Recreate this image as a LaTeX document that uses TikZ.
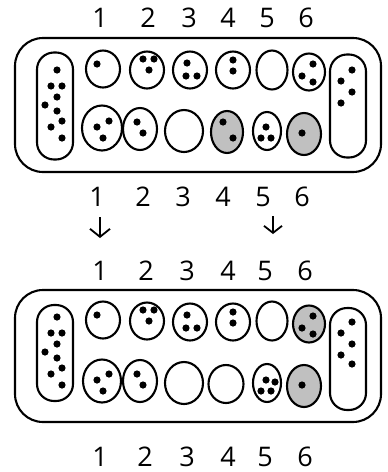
\documentclass[tikz,border=0pt]{standalone}
\usepackage{fontspec}
\setmainfont{Open Sans}
\usepackage{tikz}
\usetikzlibrary{positioning,arrows.meta,shapes.geometric}
\definecolor{seedgrey}{RGB}{192,192,192}

\begin{document}
\begin{tikzpicture}[x=1pt,y=-1pt,line width=2.1pt,
  board/.style={rectangle,draw,rounded corners=28pt,minimum width=366pt,minimum height=134pt},
  store/.style={rectangle,draw,rounded corners=17pt,minimum width=36pt,inner sep=0pt},
  pit/.style={ellipse,draw,inner sep=0pt,minimum width=34pt,minimum height=37pt},
  lowpit/.style={pit,minimum width=36pt,minimum height=42pt},
  taken/.style={fill=seedgrey},
  num/.style={font=\fontsize{27}{30}\selectfont,inner sep=0pt}
]
\useasboundingbox (0,0) rectangle (388,472);

% Top: board before the move
\foreach \n/\x in {1/100,2/148,3/189,4/228,5/267,6/306}
  \node[num] (a-n\n) at (\x,18) {\n};
\node[board] (a-board) at (198,105) {};
\node[store,minimum height=107pt] (a-L) at (55,106) {};
\node[store,minimum height=103pt] (a-R) at (348,106) {};
\node[pit] (a-t1) at (103,69) {};
\node[pit] (a-t2) at (147,70) {};
\node[pit] (a-t3) at (190,70) {};
\node[pit] (a-t4) at (233,70) {};
\node[pit,minimum width=31pt,minimum height=39pt] (a-t5) at (272,70) {};
\node[pit,minimum width=32pt] (a-t6) at (309,72) {};
\node[lowpit,minimum width=40pt,minimum height=45pt] (a-b1) at (102,128) {};
\node[lowpit,minimum width=34pt] (a-b2) at (140,129) {};
\node[lowpit,minimum width=38pt] (a-b3) at (184,131) {};
\node[lowpit,taken,minimum width=32pt] (a-b4) at (227,132) {};
\node[lowpit,minimum width=28pt,minimum height=38pt] (a-b5) at (267,131) {};
\node[lowpit,taken,minimum width=34pt] (a-b6) at (304,134) {};
% seeds
\foreach \dx/\dy in {2/-36,-4/-20,7/-20,2/-9,-10/-1,2/5,7/15,-4/21,7/32}
  \fill (a-L) ++(\dx,\dy) circle (3.6pt);
\foreach \dx/\dy in {4/-36,-7/-25,4/-14,-7/-3}
  \fill (a-R) ++(\dx,\dy) circle (3.6pt);
\fill (a-t1) ++(-6,-5) circle (3.6pt);
\foreach \dx/\dy in {-4/-11,7/-11,2/0} \fill (a-t2) ++(\dx,\dy) circle (3.6pt);
\foreach \dx/\dy in {-3/-7,-4/6,7/6} \fill (a-t3) ++(\dx,\dy) circle (3.6pt);
\foreach \dx/\dy in {0/-10,0/1} \fill (a-t4) ++(\dx,\dy) circle (3.6pt);
\foreach \dx/\dy in {4/-8,-7/4,4/10} \fill (a-t6) ++(\dx,\dy) circle (3.6pt);
\foreach \dx/\dy in {7/-7,-5/-1,1/10} \fill (a-b1) ++(\dx,\dy) circle (3.6pt);
\foreach \dx/\dy in {-3/-7,3/4} \fill (a-b2) ++(\dx,\dy) circle (3.6pt);
\foreach \dx/\dy in {-4/-10,6/6} \fill (a-b4) ++(\dx,\dy) circle (3.6pt);
\foreach \dx/\dy in {-1/-4,-6/7,4/7} \fill (a-b5) ++(\dx,\dy) circle (3.6pt);
\fill (a-b6) ++(-2,-1) circle (3.6pt);

% Middle: numbering and the two moves
\foreach \n/\x in {1/97,2/143,3/183,4/223,5/263,6/302}
  \node[num] (m-n\n) at (\x,197) {\n};
\coordinate (m-a1) at (100,217);
\coordinate (m-a1e) at (100,238);
\coordinate (m-a2) at (273,216);
\coordinate (m-a2e) at (273,234);
\draw[-{Straight Barb[length=8pt,width=20pt]},line width=1.8pt] (m-a1) -- (m-a1e);
\draw[-{Straight Barb[length=7pt,width=18pt]},line width=1.8pt] (m-a2) -- (m-a2e);

% Bottom: board after the move
\foreach \n/\x in {1/100,2/146,3/187,4/228,5/265,6/305}
  \node[num] (b-n\n) at (\x,271) {\n};
\node[board,minimum height=132pt] (b-board) at (198,356) {};
\node[store,minimum height=96pt] (b-L) at (55,353) {};
\node[store,minimum height=102pt] (b-R) at (348,359) {};
\node[pit] (b-t1) at (103,320) {};
\node[pit] (b-t2) at (147,321) {};
\node[pit] (b-t3) at (190,322) {};
\node[pit] (b-t4) at (233,322) {};
\node[pit,minimum width=31pt,minimum height=39pt] (b-t5) at (272,321) {};
\node[pit,taken,minimum width=32pt] (b-t6) at (309,324) {};
\node[lowpit,minimum width=38pt,minimum height=43pt] (b-b1) at (102,381) {};
\node[lowpit,minimum width=34pt] (b-b2) at (140,381) {};
\node[lowpit,minimum width=38pt] (b-b3) at (184,383) {};
\node[lowpit,minimum width=35pt,minimum height=38pt] (b-b4) at (226,384) {};
\node[lowpit,minimum width=28pt,minimum height=38pt] (b-b5) at (267,383) {};
\node[lowpit,taken,minimum width=34pt] (b-b6) at (304,386) {};
% seeds
\foreach \dx/\dy in {2/-36,-4/-20,7/-20,2/-9,-10/-1,2/5,7/15,-4/21,7/32}
  \fill (b-L) ++(\dx,\dy) circle (3.6pt);
\foreach \dx/\dy in {4/-37,-7/-26,4/-15,-7/-4,4/5}
  \fill (b-R) ++(\dx,\dy) circle (3.6pt);
\fill (b-t1) ++(-6,-5) circle (3.6pt);
\foreach \dx/\dy in {-4/-11,7/-11,2/0} \fill (b-t2) ++(\dx,\dy) circle (3.6pt);
\foreach \dx/\dy in {-3/-7,-4/6,7/6} \fill (b-t3) ++(\dx,\dy) circle (3.6pt);
\foreach \dx/\dy in {0/-10,0/1} \fill (b-t4) ++(\dx,\dy) circle (3.6pt);
\foreach \dx/\dy in {4/-8,-7/4,4/10} \fill (b-t6) ++(\dx,\dy) circle (3.6pt);
\foreach \dx/\dy in {7/-7,-5/-1,1/10} \fill (b-b1) ++(\dx,\dy) circle (3.6pt);
\foreach \dx/\dy in {-3/-7,3/4} \fill (b-b2) ++(\dx,\dy) circle (3.6pt);
\foreach \dx/\dy in {-1/-3,8/-1,-6/8,4/8} \fill (b-b5) ++(\dx,\dy) circle (3.6pt);
\fill (b-b6) ++(-2,-1) circle (3.6pt);

% Bottom numbering
\foreach \n/\x in {1/100,2/145,3/187,4/228,5/265,6/305}
  \node[num] (c-n\n) at (\x,457) {\n};
\end{tikzpicture}
\end{document}
